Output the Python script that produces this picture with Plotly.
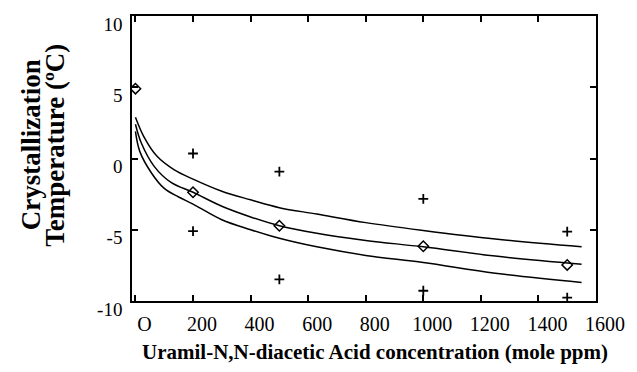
import plotly.graph_objects as go

# ---- data ----
upper_x = [0, 30, 75, 135, 200, 300, 400, 500, 630, 800, 1000, 1250, 1550]
upper_y = [2.9, 1.5, 0.15, -0.8, -1.45, -2.3, -2.9, -3.45, -3.9, -4.5, -5.05, -5.65, -6.2]

mid_x = [0, 20, 65, 125, 200, 300, 400, 500, 630, 800, 1000, 1250, 1550]
mid_y = [2.4, 1.1, -0.55, -1.7, -2.37, -3.35, -4.1, -4.72, -5.25, -5.75, -6.2, -6.85, -7.42]

lower_x = [0, 15, 55, 100, 150, 200, 300, 400, 500, 630, 800, 1000, 1250, 1550]
lower_y = [1.9, 0.5, -1.0, -2.1, -2.7, -3.2, -4.3, -5.0, -5.6, -6.2, -6.8, -7.3, -8.05, -8.7]

diamond_x = [0, 200, 500, 1000, 1500]
diamond_y = [4.9, -2.37, -4.72, -6.16, -7.47]

plus_x = [200, 500, 1000, 1500, 200, 500, 1000, 1500]
plus_y = [0.35, -0.92, -2.84, -5.13, -5.09, -8.48, -9.28, -9.77]

x_tick_vals = [0, 200, 400, 600, 800, 1000, 1200, 1400, 1600]
x_tick_text = ["O", "200", "400", "600", "800", "1000", "1200", "1400", "1600"]
y_tick_vals = [-10, -5, 0, 5, 10]
y_tick_text = ["-10", "-5", "0", "5", "10"]

x_title = "Uramil-N,N-diacetic Acid concentration (mole ppm)"
y_title_1 = "Crystallization"
y_title_2 = "Temperature (ºC)"

FONT = "Liberation Serif"

fig = go.Figure()
for xs, ys in [(upper_x, upper_y), (mid_x, mid_y), (lower_x, lower_y)]:
    fig.add_trace(go.Scatter(x=xs, y=ys, mode="lines",
                             line=dict(color="black", width=1.5, shape="spline", smoothing=1.0),
                             showlegend=False, hoverinfo="skip"))

fig.add_trace(go.Scatter(x=diamond_x, y=diamond_y, mode="markers",
                         marker=dict(symbol="diamond-open", size=8, color="black",
                                     line=dict(width=1.5, color="black")),
                         showlegend=False))
fig.add_trace(go.Scatter(x=plus_x, y=plus_y, mode="markers",
                         marker=dict(symbol="cross-thin", size=7, color="black",
                                     line=dict(width=1.8, color="black")),
                         showlegend=False))

fig.update_layout(
    width=637, height=372,
    margin=dict(l=132, r=35, t=16, b=71),
    paper_bgcolor="white", plot_bgcolor="white",
    font=dict(family=FONT, color="black"),
    xaxis=dict(range=[-12, 1600], tickvals=x_tick_vals, ticktext=x_tick_text,
               ticks="inside", ticklen=6, tickwidth=1.5, tickcolor="black",
               showline=True, linecolor="black", linewidth=1.5, mirror="ticks",
               showgrid=False, zeroline=False,
               tickfont=dict(family=FONT, size=20, color="black"),
               ticklabelshift=9, ticklabelstandoff=4),
    yaxis=dict(range=[-10, 10], tickvals=y_tick_vals, ticktext=y_tick_text,
               ticks="inside", ticklen=6, tickwidth=1.5, tickcolor="black",
               showline=True, linecolor="black", linewidth=1.5, mirror="ticks",
               showgrid=False, zeroline=False,
               tickfont=dict(family=FONT, size=19, color="black"),
               ticklabelshift=8, ticklabelstandoff=4),
)

fig.add_annotation(text="<b>" + x_title + "</b>", xref="paper", yref="paper",
                   x=0.523, y=-0.179, xanchor="center", yanchor="middle", showarrow=False,
                   font=dict(family=FONT, size=21, color="black"))
fig.add_annotation(text="<b>" + y_title_1 + "</b>", xref="paper", yref="paper",
                   x=-0.219, y=0.548, xanchor="center", yanchor="middle", showarrow=False,
                   textangle=-90, font=dict(family=FONT, size=27, color="black"))
fig.add_annotation(text="<b>" + y_title_2 + "</b>", xref="paper", yref="paper",
                   x=-0.166, y=0.548, xanchor="center", yanchor="middle", showarrow=False,
                   textangle=-90, font=dict(family=FONT, size=27, color="black"))

fig.write_html("out.html")
